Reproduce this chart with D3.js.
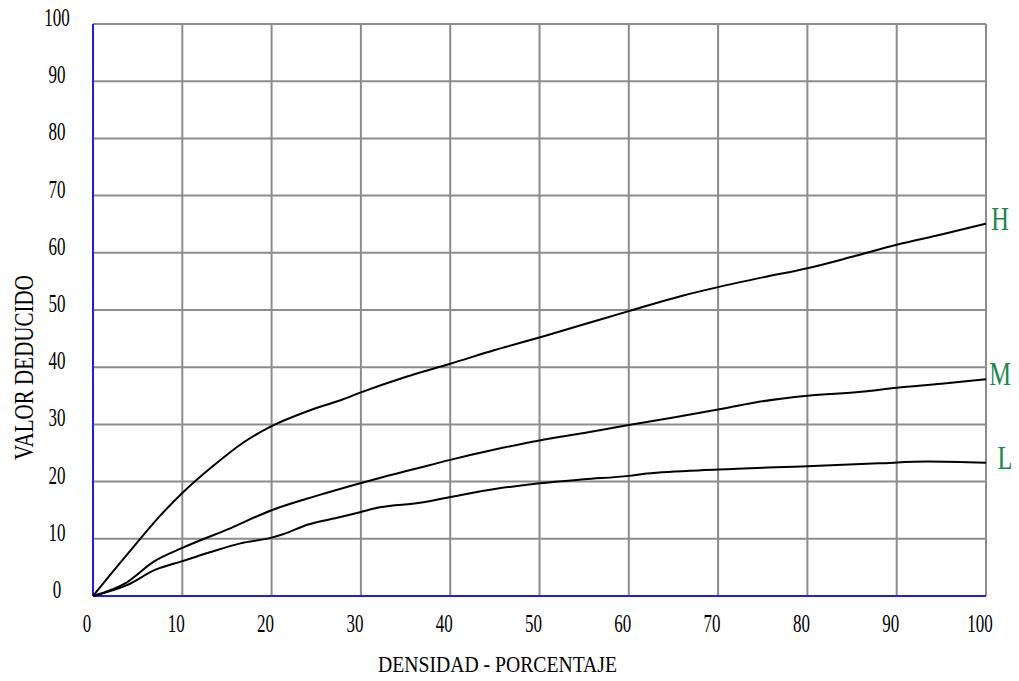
<!DOCTYPE html>
<html>
<head>
<meta charset="utf-8">
<script src="https://cdn.jsdelivr.net/npm/d3@7"></script>
<style>
  body { margin: 0; background: #fff; }
  svg { display: block; font-family: "Liberation Serif", "DejaVu Serif", serif; }
</style>
</head>
<body>
<svg id="chart"></svg>
<script>
// tick values
const xTicks = [0, 10, 20, 30, 40, 50, 60, 70, 80, 90, 100];
const yTicks = [0, 10, 20, 30, 40, 50, 60, 70, 80, 90, 100];

// curves (densidad %, valor deducido)
const hX = [0, 2.5, 4.7, 7.5, 10, 13.5, 16.8, 20, 24, 28, 30, 35, 40, 45, 50, 55, 60, 66, 70, 75, 80, 85, 90, 95, 100];
const hY = [0, 4.8, 8.9, 14.0, 18.0, 22.8, 26.8, 29.7, 32.3, 34.4, 35.6, 38.3, 40.6, 43.0, 45.2, 47.5, 49.8, 52.5, 54.0, 55.7, 57.3, 59.3, 61.4, 63.2, 65.1];

const mX = [0, 3.8, 6.8, 10, 15, 20, 25, 32, 36, 40, 45, 50, 55, 60, 65, 70, 74, 80, 86, 90, 95, 100];
const mY = [0, 2.4, 6.0, 8.4, 11.6, 15.0, 17.5, 20.6, 22.2, 23.8, 25.6, 27.2, 28.5, 29.9, 31.2, 32.6, 33.8, 35.0, 35.7, 36.4, 37.1, 37.9];

const lX = [0, 3.8, 7, 10, 13, 16.5, 20, 21.1, 24.1, 27.7, 30, 32.1, 36.6, 40, 45, 50, 55, 60, 62, 70, 80, 88, 93.5, 100];
const lY = [0, 1.9, 4.6, 6.1, 7.6, 9.2, 10.2, 10.7, 12.5, 13.8, 14.7, 15.5, 16.3, 17.3, 18.7, 19.7, 20.4, 21.0, 21.4, 22.1, 22.7, 23.2, 23.5, 23.3];

const seriesNames = ["H", "M", "L"];

const w = 1019;
const h = 681;
const pLeft = 93, pRight = 986, pTop = 24, pBottom = 596;

const svg = d3.select("#chart").attr("width", w).attr("height", h);

const xScale = d3.scaleLinear().domain([0, 100]).range([pLeft, pRight]);
const yScale = d3.scaleLinear().domain([0, 100]).range([pBottom, pTop]);

// grid
svg.append("g").selectAll("line").data(xTicks.slice(1)).enter().append("line")
  .attr("x1", d => xScale(d)).attr("x2", d => xScale(d))
  .attr("y1", yScale(0)).attr("y2", yScale(100))
  .attr("stroke", "#8c8c8c").attr("stroke-width", 2);
svg.append("g").selectAll("line").data(yTicks.slice(1)).enter().append("line")
  .attr("x1", xScale(0)).attr("x2", xScale(100))
  .attr("y1", d => yScale(d)).attr("y2", d => yScale(d))
  .attr("stroke", "#8c8c8c").attr("stroke-width", 2);

// blue axes
svg.append("line").attr("x1", xScale(0)).attr("x2", xScale(0)).attr("y1", yScale(0)).attr("y2", yScale(100))
  .attr("stroke", "#1c1cff").attr("stroke-width", 2);
svg.append("line").attr("x1", xScale(0)).attr("x2", xScale(100)).attr("y1", yScale(0)).attr("y2", yScale(0))
  .attr("stroke", "#1c1cff").attr("stroke-width", 2);

// tick labels (narrow serif look)
svg.append("g").selectAll("text").data(yTicks).enter().append("text")
  .attr("transform", d => "translate(57," + (yScale(d) + 2) + ") scale(0.68,1)")
  .attr("text-anchor", "middle").attr("font-size", 25).attr("fill", "#000")
  .text(d => d);
svg.append("g").selectAll("text").data(xTicks).enter().append("text")
  .attr("transform", d => "translate(" + (xScale(d) - 6) + ",632) scale(0.68,1)")
  .attr("text-anchor", "middle").attr("font-size", 25).attr("fill", "#000")
  .text(d => d);

// axis titles
svg.append("text").attr("x", 378).attr("y", 672).attr("font-size", 23.5)
  .attr("textLength", 239).attr("lengthAdjust", "spacingAndGlyphs")
  .text("DENSIDAD - PORCENTAJE");
svg.append("text").attr("transform", "translate(33,460) rotate(-90)").attr("font-size", 28)
  .attr("textLength", 185).attr("lengthAdjust", "spacingAndGlyphs")
  .text("VALOR DEDUCIDO");

// curves
const line = d3.line().x(d => xScale(d[0])).y(d => yScale(d[1])).curve(d3.curveMonotoneX);
const series = [d3.zip(hX, hY), d3.zip(mX, mY), d3.zip(lX, lY)];
svg.append("g").selectAll("path").data(series).enter().append("path")
  .attr("d", line).attr("fill", "none").attr("stroke", "#000").attr("stroke-width", 2);

// curve names
svg.append("g").selectAll("text").data(series).enter().append("text")
  .attr("transform", (d, i) => "translate(" + (1000 + (i == 2 ? 5 : 0)) + "," + (yScale(d[d.length - 1][1]) + 6) + ") scale(0.72,1)")
  .attr("text-anchor", "middle").attr("font-size", 34).attr("fill", "#15884a")
  .text((d, i) => seriesNames[i]);
</script>
</body>
</html>
